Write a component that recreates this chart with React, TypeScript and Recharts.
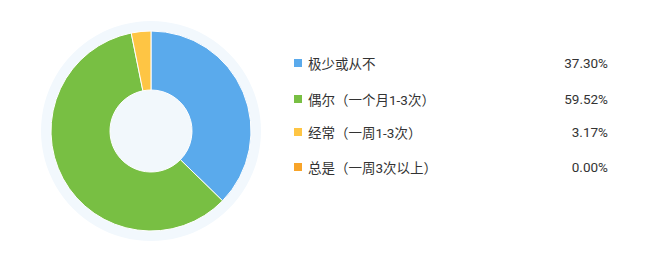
import { PieChart, Pie, Cell } from 'recharts';

const categories = ['极少或从不', '偶尔（一个月1-3次）', '经常（一周1-3次）', '总是（一周3次以上）'];
const values = [37.3, 59.52, 3.17, 0.0];
const percentLabels = ['37.30%', '59.52%', '3.17%', '0.00%'];

const COLORS = ['#5aaaec', '#78bf43', '#fec544', '#f8a429'];

const data = categories.map((name, i) => ({ name, value: values[i] }));
const bg = [{ name: 'bg', value: 1 }];

const FONT = "Roboto, 'Noto Sans CJK SC', sans-serif";

export default function App() {
  return (
    <div style={{ position: 'absolute', left: 0, top: 0, width: 664, height: 256, background: '#fff', fontFamily: FONT }}>
      <PieChart width={300} height={256} margin={{ top: 0, right: 0, bottom: 0, left: 0 }} style={{ position: 'absolute', left: 0, top: 0 }}>
        {/* pale halo behind the donut */}
        <Pie data={bg} dataKey="value" cx={151} cy={131} innerRadius={0} outerRadius={110} stroke="none" fill="#f2f8fd" isAnimationActive={false} />
        <Pie
          data={data}
          dataKey="value"
          nameKey="name"
          cx={151}
          cy={131}
          innerRadius={41}
          outerRadius={100}
          startAngle={90}
          endAngle={-270}
          stroke="#fff"
          strokeWidth={1}
          isAnimationActive={false}
        >
          {data.map((_, i) => (
            <Cell key={`cell-${i}`} fill={COLORS[i]} />
          ))}
        </Pie>
        <Pie data={bg} dataKey="value" cx={151} cy={131} innerRadius={0} outerRadius={40} stroke="none" fill="#f2f8fc" isAnimationActive={false} />
      </PieChart>
      {categories.map((c, i) => (
        <div
          key={c}
          style={{
            position: 'absolute',
            left: 294,
            top: [63, 99, 132, 167][i] - 10,
            width: 314,
            height: 20,
            display: 'flex',
            alignItems: 'center',
            fontSize: 13.5,
            color: '#333',
          }}
        >
          <span style={{ width: 8, height: 8, background: COLORS[i], marginRight: 6, flex: 'none' }} />
          <span style={{ flex: 1 }}>{c}</span>
          <span>{percentLabels[i]}</span>
        </div>
      ))}
    </div>
  );
}
